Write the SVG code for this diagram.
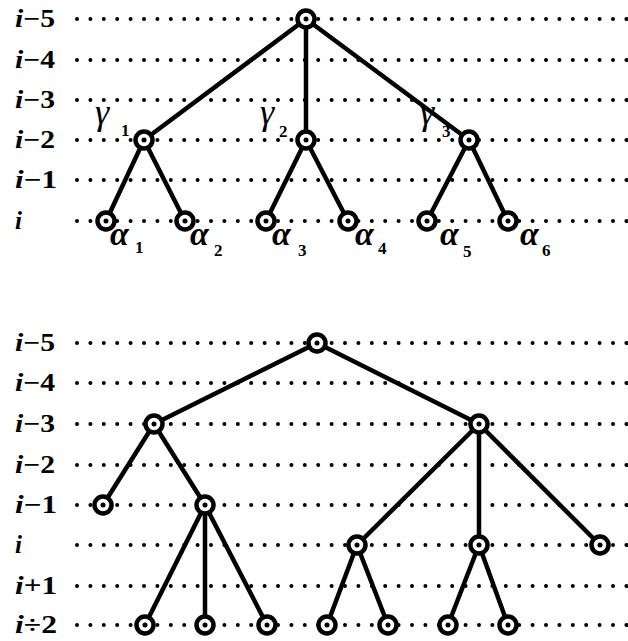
<svg xmlns="http://www.w3.org/2000/svg" width="628" height="641" viewBox="0 0 628 641">
<defs>
<style>
.dots{stroke:#000;stroke-width:4;stroke-linecap:round;stroke-dasharray:0 13.4;fill:none}
.edge{stroke:#000;stroke-width:4.5;fill:none;stroke-linecap:round}
.nd circle.o{fill:#fff;stroke:#000;stroke-width:4.5}
.nd circle.c{fill:#000;stroke:none}
text{font-family:"Liberation Serif","Times New Roman","DejaVu Serif",serif;fill:#000}
.rl{font-weight:bold;font-size:25px}
.it{font-style:italic}
.gl{font-style:italic;font-size:36px}
.al{font-style:italic;font-weight:bold;font-size:34px}
.sb{font-weight:bold;font-size:17px}
</style>
</defs>
<rect width="628" height="641" fill="#fff"/>

<g id="grid">
<path class="dots" d="M77 19H627M77 60H627M77 100H627M77 140H627M77 180H627M77 221H627"/>
<path class="dots" d="M77 343H627M77 383H627M77 424H627M77 465H627M77 505H627M77 545H627M77 586H627M77 625H627"/>
</g>

<g id="row-labels">
<text class="rl" x="15" y="27" textLength="40" lengthAdjust="spacingAndGlyphs"><tspan class="it">i</tspan>−5</text>
<text class="rl" x="15" y="68" textLength="40" lengthAdjust="spacingAndGlyphs"><tspan class="it">i</tspan>−4</text>
<text class="rl" x="15" y="108" textLength="40" lengthAdjust="spacingAndGlyphs"><tspan class="it">i</tspan>−3</text>
<text class="rl" x="15" y="148" textLength="40" lengthAdjust="spacingAndGlyphs"><tspan class="it">i</tspan>−2</text>
<text class="rl" x="15" y="188" textLength="42" lengthAdjust="spacingAndGlyphs"><tspan class="it">i</tspan>−1</text>
<text class="rl it" x="15" y="229">i</text>
<text class="rl" x="15" y="351" textLength="40" lengthAdjust="spacingAndGlyphs"><tspan class="it">i</tspan>−5</text>
<text class="rl" x="15" y="391" textLength="40" lengthAdjust="spacingAndGlyphs"><tspan class="it">i</tspan>−4</text>
<text class="rl" x="15" y="432" textLength="40" lengthAdjust="spacingAndGlyphs"><tspan class="it">i</tspan>−3</text>
<text class="rl" x="15" y="473" textLength="40" lengthAdjust="spacingAndGlyphs"><tspan class="it">i</tspan>−2</text>
<text class="rl" x="15" y="513" textLength="42" lengthAdjust="spacingAndGlyphs"><tspan class="it">i</tspan>−1</text>
<text class="rl it" x="15" y="553">i</text>
<text class="rl" x="15" y="594" textLength="42" lengthAdjust="spacingAndGlyphs"><tspan class="it">i</tspan>+1</text>
<text class="rl" x="15" y="633" textLength="42" lengthAdjust="spacingAndGlyphs"><tspan class="it">i</tspan>÷2</text>
</g>

<g id="connectors">
<path class="edge" d="M306 19L144 140M306 19L306 140M306 19L469 140"/>
<path class="edge" d="M144 140L106 221M144 140L185 221M306 140L266 221M306 140L348 221M469 140L427 221M469 140L508 221"/>
<path class="edge" d="M317 343L154 424M317 343L479 424"/>
<path class="edge" d="M154 424L103 505M154 424L205 505"/>
<path class="edge" d="M205 505L145 625M205 505L205 625M205 505L267 625"/>
<path class="edge" d="M479 424L357 545M479 424L479 545M479 424L600 545"/>
<path class="edge" d="M357 545L327 625M357 545L388 625M479 545L448 625M479 545L508 625"/>
</g>

<g id="top-root" class="nd"><circle class="o" cx="306" cy="19" r="8.5"/><circle class="c" cx="306" cy="19" r="2.5"/></g>
<g id="gamma1" class="nd"><circle class="o" cx="144" cy="140" r="8.5"/><circle class="c" cx="144" cy="140" r="2.5"/></g>
<g id="gamma2" class="nd"><circle class="o" cx="306" cy="140" r="8.5"/><circle class="c" cx="306" cy="140" r="2.5"/></g>
<g id="gamma3" class="nd"><circle class="o" cx="469" cy="140" r="8.5"/><circle class="c" cx="469" cy="140" r="2.5"/></g>
<g id="alpha1" class="nd"><circle class="o" cx="106" cy="221" r="8.5"/><circle class="c" cx="106" cy="221" r="2.5"/></g>
<g id="alpha2" class="nd"><circle class="o" cx="185" cy="221" r="8.5"/><circle class="c" cx="185" cy="221" r="2.5"/></g>
<g id="alpha3" class="nd"><circle class="o" cx="266" cy="221" r="8.5"/><circle class="c" cx="266" cy="221" r="2.5"/></g>
<g id="alpha4" class="nd"><circle class="o" cx="348" cy="221" r="8.5"/><circle class="c" cx="348" cy="221" r="2.5"/></g>
<g id="alpha5" class="nd"><circle class="o" cx="427" cy="221" r="8.5"/><circle class="c" cx="427" cy="221" r="2.5"/></g>
<g id="alpha6" class="nd"><circle class="o" cx="508" cy="221" r="8.5"/><circle class="c" cx="508" cy="221" r="2.5"/></g>

<g id="labels-top">
<text class="gl" x="95" y="124">γ</text><text class="sb" x="121" y="136">1</text>
<text class="gl" x="260" y="124">γ</text><text class="sb" x="279" y="137">2</text>
<text class="gl" x="420" y="124">γ</text><text class="sb" x="442" y="137">3</text>
<text class="al" x="110" y="245">α</text><text class="sb" x="135" y="253">1</text>
<text class="al" x="190" y="245">α</text><text class="sb" x="214" y="256">2</text>
<text class="al" x="272" y="245">α</text><text class="sb" x="298" y="256">3</text>
<text class="al" x="355" y="245">α</text><text class="sb" x="378" y="254">4</text>
<text class="al" x="440" y="245">α</text><text class="sb" x="463" y="257">5</text>
<text class="al" x="520" y="245">α</text><text class="sb" x="542" y="256">6</text>
</g>

<g id="bot-root" class="nd"><circle class="o" cx="317" cy="343" r="8.5"/><circle class="c" cx="317" cy="343" r="2.5"/></g>
<g id="bot-a" class="nd"><circle class="o" cx="154" cy="424" r="8.5"/><circle class="c" cx="154" cy="424" r="2.5"/></g>
<g id="bot-b" class="nd"><circle class="o" cx="479" cy="424" r="8.5"/><circle class="c" cx="479" cy="424" r="2.5"/></g>
<g id="bot-l1" class="nd"><circle class="o" cx="103" cy="505" r="8.5"/><circle class="c" cx="103" cy="505" r="2.5"/></g>
<g id="bot-c" class="nd"><circle class="o" cx="205" cy="505" r="8.5"/><circle class="c" cx="205" cy="505" r="2.5"/></g>
<g id="bot-d" class="nd"><circle class="o" cx="357" cy="545" r="8.5"/><circle class="c" cx="357" cy="545" r="2.5"/></g>
<g id="bot-e" class="nd"><circle class="o" cx="479" cy="545" r="8.5"/><circle class="c" cx="479" cy="545" r="2.5"/></g>
<g id="bot-f" class="nd"><circle class="o" cx="600" cy="545" r="8.5"/><circle class="c" cx="600" cy="545" r="2.5"/></g>
<g id="bot-c1" class="nd"><circle class="o" cx="145" cy="625" r="8.5"/><circle class="c" cx="145" cy="625" r="2.5"/></g>
<g id="bot-c2" class="nd"><circle class="o" cx="205" cy="625" r="8.5"/><circle class="c" cx="205" cy="625" r="2.5"/></g>
<g id="bot-c3" class="nd"><circle class="o" cx="267" cy="625" r="8.5"/><circle class="c" cx="267" cy="625" r="2.5"/></g>
<g id="bot-d1" class="nd"><circle class="o" cx="327" cy="625" r="8.5"/><circle class="c" cx="327" cy="625" r="2.5"/></g>
<g id="bot-d2" class="nd"><circle class="o" cx="388" cy="625" r="8.5"/><circle class="c" cx="388" cy="625" r="2.5"/></g>
<g id="bot-e1" class="nd"><circle class="o" cx="448" cy="625" r="8.5"/><circle class="c" cx="448" cy="625" r="2.5"/></g>
<g id="bot-e2" class="nd"><circle class="o" cx="508" cy="625" r="8.5"/><circle class="c" cx="508" cy="625" r="2.5"/></g>
</svg>
